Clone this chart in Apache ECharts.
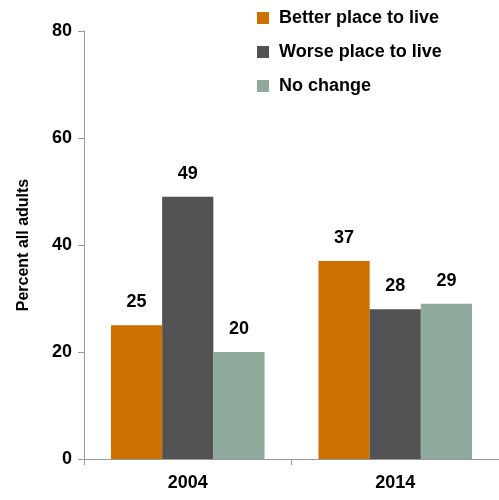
<!DOCTYPE html>
<html>
<head>
<meta charset="utf-8">
<script src="https://cdn.jsdelivr.net/npm/echarts@6/dist/echarts.min.js"></script>
<style>
  html, body { margin: 0; padding: 0; background: #fff; }
  #chart { width: 499px; height: 500px; }
</style>
</head>
<body>
<div id="chart"></div>
<script>
// Survey years and shares of adults by perceived change in place to live
const years = ['2004', '2014'];
const betterPlace = [25, 37];
const worsePlace = [49, 28];
const noChange = [20, 29];
const yTicks = [0, 20, 40, 60, 80];

const FONT = '"Liberation Sans", Arial, sans-serif';

function barSeries(name, values, color) {
  return {
    name: name,
    type: 'bar',
    data: values,
    barGap: '0%',
    barCategoryGap: '26%',
    itemStyle: { color: color },
    label: {
      show: true,
      position: 'top',
      distance: 14,
      color: '#000',
      fontFamily: FONT,
      fontWeight: 'bold',
      fontSize: 18
    }
  };
}

const chart = echarts.init(document.getElementById('chart'));
chart.setOption({
  animation: false,
  textStyle: { fontFamily: FONT },
  legend: {
    orient: 'vertical',
    left: 252,
    top: 4,
    itemWidth: 12,
    itemHeight: 12,
    itemGap: 16,
    icon: 'rect',
    textStyle: { fontFamily: FONT, fontWeight: 'bold', fontSize: 18, color: '#000', padding: [0, 0, 0, 5] },
    data: ['Better place to live', 'Worse place to live', 'No change']
  },
  grid: { left: 84, top: 31, width: 420, height: 428 },
  xAxis: {
    type: 'category',
    data: years,
    axisLine: { lineStyle: { color: '#999', width: 1 } },
    axisTick: { show: true, length: 6, lineStyle: { color: '#999' } },
    axisLabel: { color: '#000', fontFamily: FONT, fontWeight: 'bold', fontSize: 18, margin: 15 }
  },
  yAxis: {
    type: 'value',
    min: yTicks[0],
    max: yTicks[yTicks.length - 1],
    interval: 20,
    name: 'Percent all adults',
    nameLocation: 'middle',
    nameGap: 52,
    nameTextStyle: { color: '#000', fontFamily: FONT, fontWeight: 'bold', fontSize: 16 },
    axisLine: { show: true, lineStyle: { color: '#999', width: 1 } },
    axisTick: { show: true, length: 6, lineStyle: { color: '#999' } },
    splitLine: { show: false },
    axisLabel: { color: '#000', fontFamily: FONT, fontWeight: 'bold', fontSize: 18, margin: 12 }
  },
  series: [
    barSeries('Better place to live', betterPlace, '#CC7000'),
    barSeries('Worse place to live', worsePlace, '#525254'),
    barSeries('No change', noChange, '#8FA99C')
  ]
});
</script>
</body>
</html>
